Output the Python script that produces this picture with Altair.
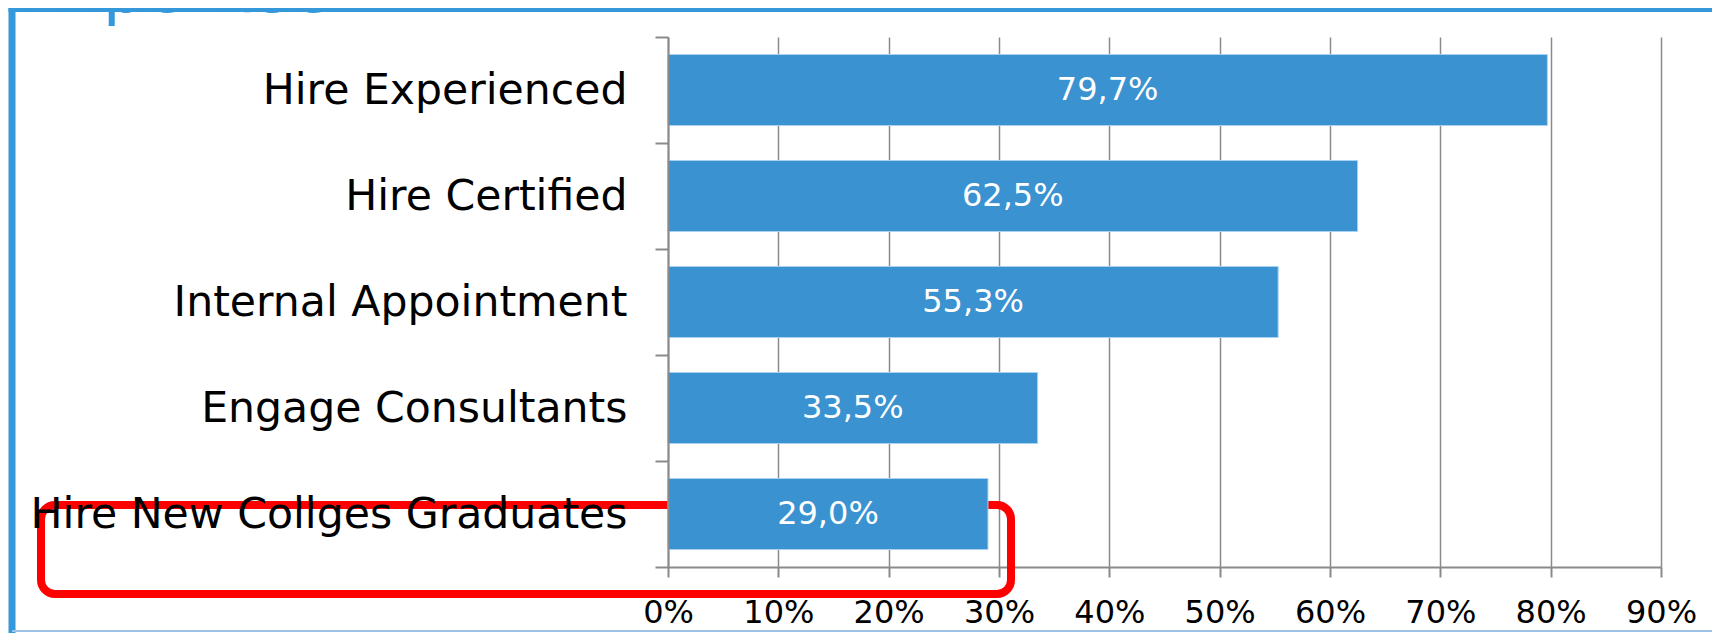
import altair as alt
import pandas as pd

# ---- data ----
categories = [
    "Hire Experienced",
    "Hire Certified",
    "Internal Appointment",
    "Engage Consultants",
    "Hire New Collges Graduates",
]
values = [79.7, 62.5, 55.3, 33.5, 29.0]
value_labels = ["79,7%", "62,5%", "55,3%", "33,5%", "29,0%"]
x_ticks = [0, 10, 20, 30, 40, 50, 60, 70, 80, 90]
title_text = ["Expertise"]

df = pd.DataFrame({"category": categories, "value": values, "label": value_labels})
anno = pd.DataFrame({"t": title_text})

FONT = "DejaVu Sans"
BLUE = "#3A92D0"
FRAME = "#3498DB"
GREY = "#8A8A8A"

y_enc = alt.Y(
    "category:N",
    sort=categories,
    scale=alt.Scale(paddingInner=0, paddingOuter=0),
    axis=alt.Axis(
        title=None,
        labelFontSize=42.6,
        labelFont=FONT,
        labelColor="black",
        labelPadding=28,
        labelLimit=1000,
        tickSize=13,
        tickBand="extent",
        tickColor=GREY,
        tickWidth=2,
        domainColor=GREY,
        domainWidth=2,
        grid=False,
        zindex=1,
    ),
)

x_enc = alt.X(
    "value:Q",
    scale=alt.Scale(domain=[0, 90], nice=False, zero=True),
    axis=alt.Axis(
        title=None,
        values=x_ticks,
        labelExpr="datum.value + '%'",
        labelFontSize=32,
        labelFont=FONT,
        labelColor="black",
        labelPadding=20,
        labelFlush=False,
        labelOverlap=False,
        tickSize=10,
        tickColor=GREY,
        tickWidth=2,
        domainColor=GREY,
        domainWidth=2,
        grid=True,
        gridColor=GREY,
        gridWidth=1.5,
        gridOpacity=1,
    ),
)

# red highlight (annotation, behind bars)
highlight = alt.Chart(anno).mark_rect(
    fillOpacity=0, stroke="#FF0000", strokeWidth=8, cornerRadius=14
).encode(
    x=alt.value(-627), x2=alt.value(343), y=alt.value(468), y2=alt.value(557)
)

bars = alt.Chart(df).mark_bar(
    color=BLUE, stroke="#A8D0F0", strokeWidth=1, height={"band": 0.67}
).encode(x=x_enc, y=y_enc)

labels = alt.Chart(df).transform_calculate(
    mid="datum.value / 2"
).mark_text(
    color="white", fontSize=32, font=FONT, align="center", baseline="middle"
).encode(
    x=alt.X("mid:Q"),
    y=alt.Y("category:N", sort=categories),
    text="label:N",
)

# slide frame + cut-off title
frame_left = alt.Chart(anno).mark_rule(color=FRAME, strokeWidth=7).encode(
    x=alt.value(-656), y=alt.value(-40), y2=alt.value(600)
)
frame_top = alt.Chart(anno).mark_rule(color=FRAME, strokeWidth=7).encode(
    x=alt.value(-659.5), x2=alt.value(1200), y=alt.value(-28.5)
)
frame_bottom = alt.Chart(anno).mark_rule(color="#9DC3E6", strokeWidth=2).encode(
    x=alt.value(-656), x2=alt.value(1200), y=alt.value(594)
)
title = alt.Chart(anno).mark_text(
    color=FRAME, fontSize=66, font=FONT, align="left", baseline="alphabetic"
).encode(x=alt.value(-646), y=alt.value(-25), text="t:N")

chart = alt.layer(
    highlight, bars, labels, frame_left, frame_top, frame_bottom, title
).properties(
    width=993,
    height=530,
    padding={"left": 660, "top": 29, "right": 51, "bottom": 66},
    autosize=alt.AutoSizeParams(type="none"),
    background="white",
).configure_view(strokeWidth=0)

chart.save("out.html", embed_options={"renderer": "svg", "actions": False})
